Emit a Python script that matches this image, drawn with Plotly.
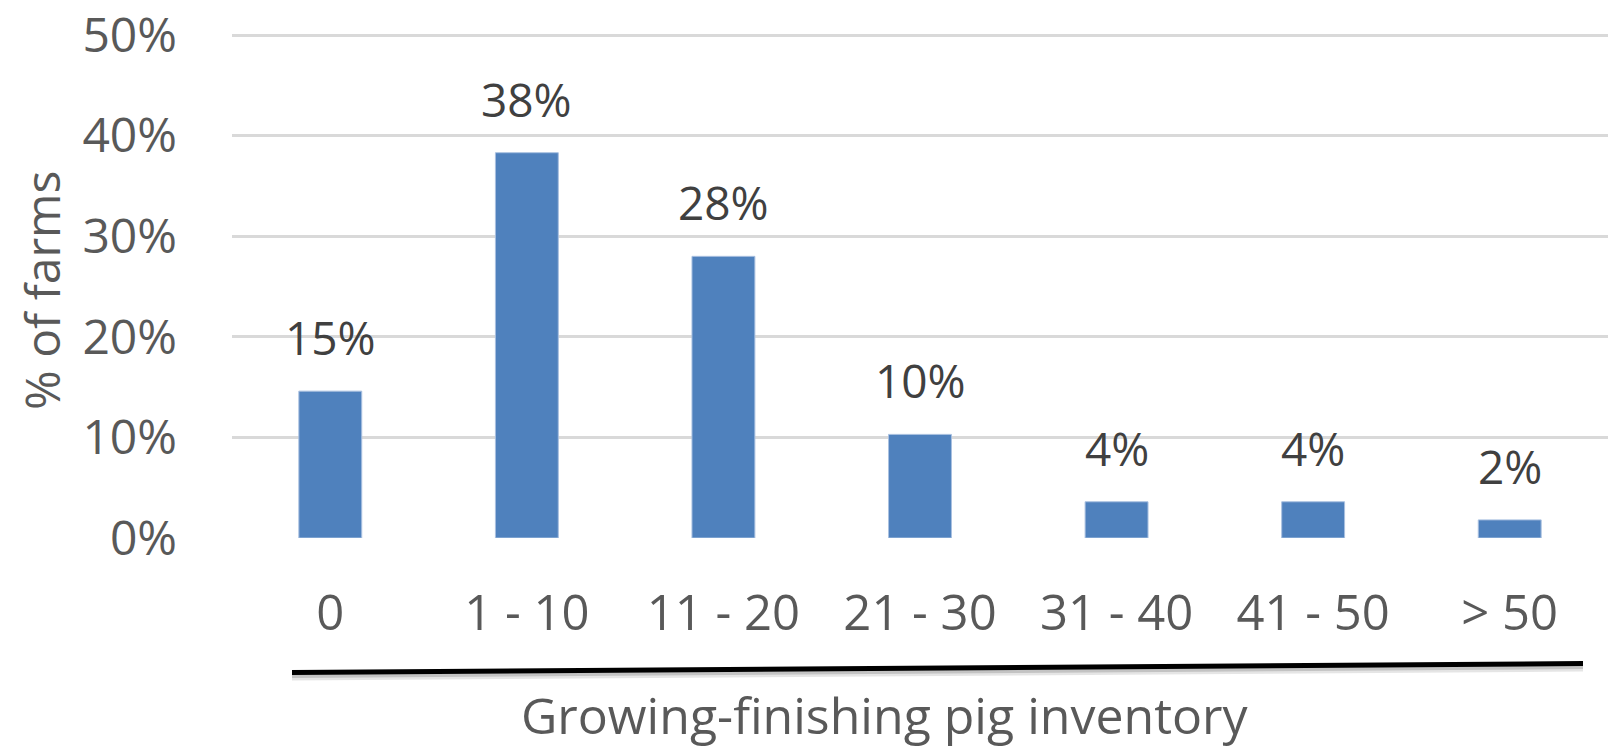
import plotly.graph_objects as go

# Farm-size classes (growing-finishing pigs on hand) and share of farms in each
categories = ["0", "1 - 10", "11 - 20", "21 - 30", "31 - 40", "41 - 50", "> 50"]
share = [0.146, 0.383, 0.28, 0.103, 0.036, 0.036, 0.018]
y_ticks = [0, 0.1, 0.2, 0.3, 0.4, 0.5]
y_ticktext = ["0%", "10%", "20%", "30%", "40%", "50%"]
x_title = "Growing-finishing pig inventory"
y_title = "% of farms"

FONT = "Open Sans"
BAR = "#4F81BD"
GRID = "#D9D9D9"
TICK_GRAY = "#595959"
LABEL_GRAY = "#404040"

W, H = 1609, 750
pl, pr, pt, pb = 232, 1, 31, 212
pw, ph = W - pl - pr, H - pt - pb


def px_to_paper(px, py):
    """Convert page pixel position to paper coordinates of the plot area."""
    return (px - pl) / pw, (H - pb - py) / ph


fig = go.Figure()
fig.add_trace(go.Bar(
    x=categories,
    y=share,
    width=0.32,
    marker=dict(color=BAR, line=dict(color="#A9C0E0", width=1)),
    hoverinfo="skip",
))

# value labels above each bar, formatted from the same values
for cat, v in zip(categories, share):
    fig.add_annotation(
        x=cat, y=v, xref="x", yref="y",
        text=f"{v:.0%}",
        showarrow=False,
        yanchor="bottom",
        yshift=21,
        font=dict(family=FONT, size=46, color=LABEL_GRAY),
    )

# x-axis title
ax, ay = px_to_paper(884, 716)
fig.add_annotation(
    x=ax, y=ay, xref="paper", yref="paper", text=x_title, showarrow=False,
    xanchor="center", yanchor="middle", borderpad=0,
    font=dict(family=FONT, size=50, color=TICK_GRAY),
)

# y-axis title
tx, ty = px_to_paper(42, 290)
fig.add_annotation(
    x=tx, y=ty, xref="paper", yref="paper", text=y_title, showarrow=False,
    textangle=-90, xanchor="center", yanchor="middle",
    font=dict(family=FONT, size=48, color=TICK_GRAY),
)

fig.update_layout(
    width=W, height=H,
    margin=dict(l=pl, r=pr, t=pt, b=pb),
    paper_bgcolor="white",
    plot_bgcolor="white",
    showlegend=False,
    xaxis=dict(
        type="category",
        range=[-0.5, 6.5],
        showgrid=False,
        zeroline=False,
        showline=False,
        ticks="",
        ticklabelstandoff=42,
        tickfont=dict(family=FONT, size=49, color=TICK_GRAY),
    ),
    yaxis=dict(
        range=[0, 0.502],
        tickvals=y_ticks,
        ticktext=y_ticktext,
        showgrid=True,
        gridcolor=GRID,
        gridwidth=3,
        zeroline=False,
        showline=False,
        ticks="",
        ticklabelstandoff=54,
        ticklabeloverflow="allow",
        tickfont=dict(family=FONT, size=48, color=TICK_GRAY),
    ),
)

# hand-drawn rule between the category labels and the axis title, with a soft shadow
for dy, col, w in [(5, "rgba(0,0,0,0.10)", 6), (3, "rgba(0,0,0,0.15)", 5)]:
    sx0, sy0 = px_to_paper(292, 673 + dy)
    sx1, sy1 = px_to_paper(1583, 664 + dy)
    fig.add_shape(type="line", xref="paper", yref="paper",
                  x0=sx0, y0=sy0, x1=sx1, y1=sy1,
                  line=dict(color=col, width=w), layer="below")
x0, y0 = px_to_paper(292, 673)
x1, y1 = px_to_paper(1583, 664)
fig.add_shape(type="line", xref="paper", yref="paper",
              x0=x0, y0=y0, x1=x1, y1=y1,
              line=dict(color="black", width=5))

fig.write_html("out.html")
